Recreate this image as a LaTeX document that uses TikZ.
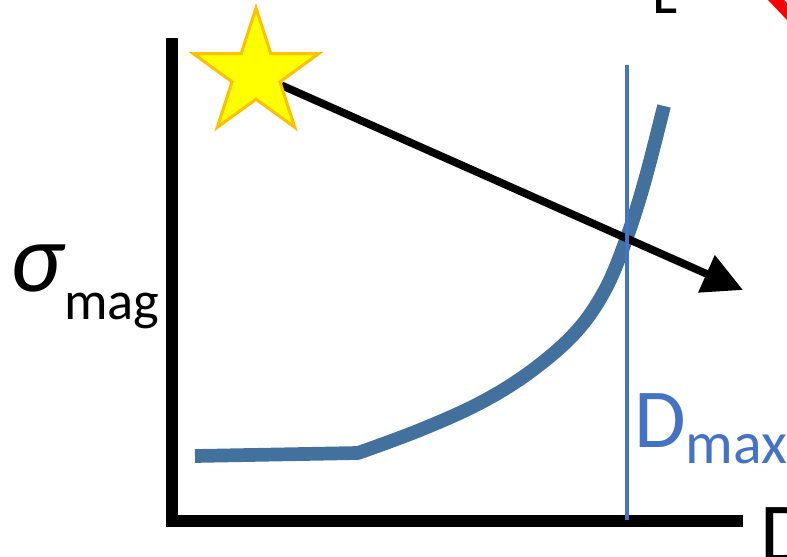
\documentclass[tikz,border=0pt]{standalone}
\usepackage{fontspec}
\setmainfont{Carlito}
\usetikzlibrary{arrows.meta,shapes.geometric}
\definecolor{curveblue}{HTML}{41719C}
\definecolor{limitblue}{HTML}{4472C4}
\definecolor{staryellow}{HTML}{FFFF00}
\definecolor{starorange}{HTML}{FFC000}
\definecolor{markred}{HTML}{FF0000}

\begin{document}
\begin{tikzpicture}[
  x=0.02cm,y=-0.02cm,
  axis/.style={line width=7pt,draw=black,line join=miter},
  trend/.style={line width=4.4pt,draw=black,
    -{Triangle[length=0.8cm,width=0.78cm]}},
  limit/.style={line width=2.6pt,draw=limitblue},
  curve/.style={line width=7.8pt,draw=curveblue,line join=round},
  label/.style={inner sep=0pt,anchor=base west},
  bigtext/.style={font=\fontsize{47.8}{48}\selectfont},
  subtext/.style={font=\fontsize{34}{34}\selectfont}
]
  \useasboundingbox (0,0) rectangle (787,557);
  \clip (0,0) rectangle (787,557);

  % Axes
  \coordinate (ytop) at (172,38);
  \coordinate (xend) at (743,521);
  \draw[axis] (ytop) |- (xend);

  % Curve
  \draw[curve] (195,456) -- plot[smooth,tension=0.6] coordinates
    {(358,453) (420,430) (480,403) (530,372) (575,333) (605,290)
     (627,237) (645,180) (664,106)};

  % Trend arrow from the star
  \node[star,star points=5,star point ratio=2.618,minimum size=2.64cm,
    inner sep=0pt] (start) at (256,74) {};
  \coordinate (tip) at (743,290);
  \draw[trend] (start) -- (tip);
  \node[star,star points=5,star point ratio=2.618,minimum size=2.64cm,
    inner sep=0pt,draw=starorange,fill=staryellow,line width=1.7pt]
    at (start) {};

  % Limit line
  \coordinate (ltop) at (627,65);
  \coordinate (lbot) at (627,520);
  \draw[limit] (ltop) -- (lbot);

  % Labels
  \node[label,font=\fontsize{56}{56}\selectfont\itshape] (sigma) at (10,291) {σ};
  \node[label,font=\fontsize{31}{31}\selectfont] (mag) at (64,319) {mag};
  \node[label,bigtext,text=limitblue] (dlim) at (634,447) {D};
  \node[label,subtext,text=limitblue] (dsub) at (685,463) {max};
  \node[label,bigtext] (daxis) at (760,561) {D};
  \node[label,subtext] (lmark) at (652,14) {L};

  % Corner mark
  \fill[markred] (768,0) -- (787,20) -- (787,3) -- (784,0) -- cycle;
\end{tikzpicture}
\end{document}
